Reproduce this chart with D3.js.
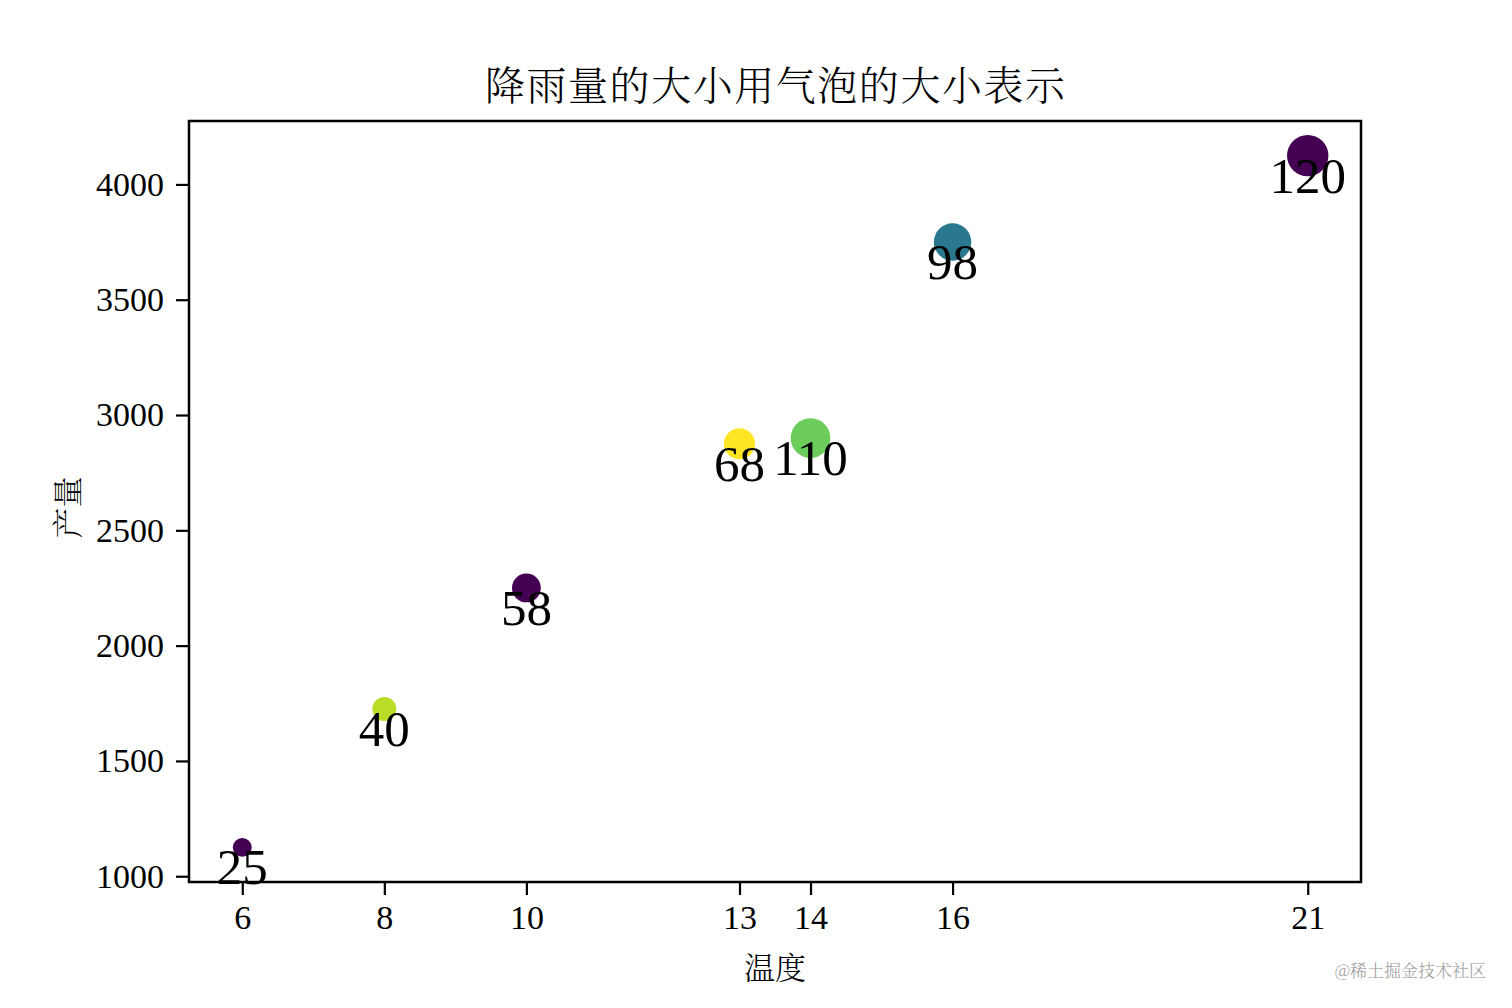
<!DOCTYPE html>
<html>
<head>
<meta charset="utf-8">
<script src="https://cdn.jsdelivr.net/npm/d3@7"></script>
<style>
html,body{margin:0;padding:0;background:#fff;}
svg{display:block;}
.num{font-family:"Liberation Serif","DejaVu Serif",serif;}
.cjk{font-family:"Noto Serif CJK SC","Noto Sans CJK SC",sans-serif;font-weight:300;}
</style>
</head>
<body>
<svg id="chart" width="1512" height="1008"></svg>
<script>
const temperature = [6, 8, 10, 13, 14, 16, 21];
const production = [1125, 1725, 2250, 2875, 2900, 3750, 4125];
const rainfall = [25, 40, 58, 68, 110, 98, 120];
const colors = ["#440154", "#bade28", "#440154", "#fde725", "#6ccd5a", "#2a788e", "#440154"];
const xTicks = [6, 8, 10, 13, 14, 16, 21];
const yTicks = [1000, 1500, 2000, 2500, 3000, 3500, 4000];
const titleText = "降雨量的大小用气泡的大小表示";
const xLabel = "温度";
const yLabel = "产量";

const svg = d3.select("#chart");
const L = 189, R = 1361, T = 121, B = 882;

const x = d3.scaleLinear().domain([5.25, 21.75]).range([L, R]);
const y = d3.scaleLinear().domain([975, 4275]).range([B, T]);
const r = d3.scaleSqrt().domain([0, 120]).range([0, 20.7]);

const data = temperature.map((t, i) => ({t, p: production[i], rain: rainfall[i], c: colors[i]}));

// bubbles
const g = svg.append("g");
g.selectAll("circle").data(data).join("circle")
  .attr("cx", d => x(d.t)).attr("cy", d => y(d.p))
  .attr("r", d => r(d.rain)).attr("fill", d => d.c);

// labels
g.selectAll("text.lbl").data(data).join("text")
  .attr("class", "lbl num")
  .attr("x", d => x(d.t)).attr("y", d => y(d.p) + 37)
  .attr("text-anchor", "middle")
  .attr("font-size", 51).attr("fill", "#000")
  .text(d => d.rain);

// frame
svg.append("rect").attr("x", L).attr("y", T).attr("width", R - L).attr("height", B - T)
  .attr("fill", "none").attr("stroke", "#000").attr("stroke-width", 2.5);

// x axis
const xAxis = svg.append("g").attr("transform", `translate(0,${B})`)
  .call(d3.axisBottom(x).tickValues(xTicks).tickSize(13).tickPadding(10).tickFormat(d3.format("d")));
xAxis.select(".domain").remove();
xAxis.selectAll(".tick line").attr("stroke", "#000").attr("stroke-width", 2.2);
xAxis.selectAll(".tick text").attr("class", "num").attr("font-size", 34).attr("fill", "#000");

// y axis
const yAxis = svg.append("g").attr("transform", `translate(${L},0)`)
  .call(d3.axisLeft(y).tickValues(yTicks).tickSize(13).tickPadding(12).tickFormat(d3.format("d")));
yAxis.select(".domain").remove();
yAxis.selectAll(".tick line").attr("stroke", "#000").attr("stroke-width", 2.2);
yAxis.selectAll(".tick text").attr("class", "num").attr("font-size", 34).attr("fill", "#000");

// title
svg.append("text").attr("class", "cjk")
  .attr("x", 485).attr("y", 100)
  .attr("font-size", 40).attr("textLength", 580).attr("lengthAdjust", "spacing").attr("fill", "#000")
  .text(titleText);

// x label
svg.append("text").attr("class", "cjk")
  .attr("x", (L + R) / 2).attr("y", 979).attr("text-anchor", "middle")
  .attr("font-size", 31).attr("fill", "#000")
  .text(xLabel);

// y label
svg.append("text").attr("class", "cjk")
  .attr("transform", `translate(79,${(T + B) / 2 + 6}) rotate(-90)`)
  .attr("text-anchor", "middle")
  .attr("font-size", 31).attr("fill", "#000")
  .text(yLabel);

// watermark
svg.append("text").attr("class", "cjk")
  .attr("x", 1486).attr("y", 977).attr("text-anchor", "end")
  .attr("font-size", 17).attr("fill", "#9a9a9a")
  .text("@稀土掘金技术社区");
</script>
</body>
</html>
